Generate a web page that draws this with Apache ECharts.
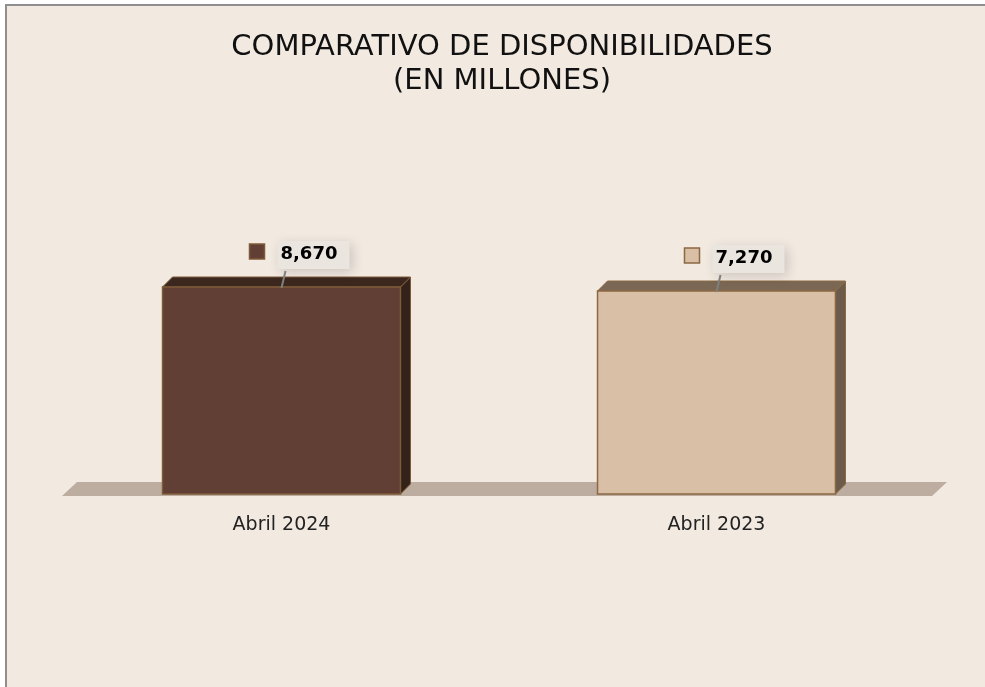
<!DOCTYPE html>
<html>
<head>
<meta charset="utf-8">
<script src="https://cdn.jsdelivr.net/npm/echarts@6/dist/echarts.min.js"></script>
<style>
html,body{margin:0;padding:0;background:#ffffff;}
#c{width:985px;height:687px;}
</style>
</head>
<body>
<div id="c"></div>
<script>
// ---- data ----
const categories = ['Abril 2024', 'Abril 2023'];
const values = [8670, 7270];
const valueLabels = ['8,670', '7,270'];
const titleLines = ['COMPARATIVO DE DISPONIBILIDADES', '(EN MILLONES)'];

// ---- styles ----
const frontColors = ['#623f34', '#d9bfa5'];
const topColors = ['#3b271e', '#7a6754'];
const sideColors = ['#33221a', '#6c5b4a'];
const edgeColors = ['#7d5a38', '#8a6842'];

const chart = echarts.init(document.getElementById('c'));
const DEPTH = 10;

function renderBar(params, api) {
  const i = params.dataIndex;
  const top = api.coord([api.value(0), api.value(1)]);
  const base = api.coord([api.value(0), 1]);
  const w = api.size([1, 0])[0] * 0.547;
  const cx = top[0], ty = top[1], by = base[1];
  const l = cx - w / 2, r = cx + w / 2;
  return {
    type: 'group',
    children: [
      { type: 'polygon', shape: { points: [[r, ty], [r + DEPTH, ty - DEPTH], [r + DEPTH, by - DEPTH], [r, by]] },
        style: { fill: sideColors[i], stroke: edgeColors[i], lineWidth: 1 } },
      { type: 'polygon', shape: { points: [[l, ty], [l + DEPTH, ty - DEPTH], [r + DEPTH, ty - DEPTH], [r, ty]] },
        style: { fill: topColors[i], stroke: edgeColors[i], lineWidth: 1 } },
      { type: 'rect', shape: { x: l, y: ty, width: w, height: by - ty },
        style: { fill: frontColors[i], stroke: edgeColors[i], lineWidth: 1.5 } },
      { type: 'rect', shape: { x: cx - 4, y: ty - 46, width: 72, height: 28 },
        style: { fill: '#ebe5df', shadowBlur: 12, shadowColor: 'rgba(0,0,0,0.16)', shadowOffsetX: 3, shadowOffsetY: 3 } },
      { type: 'line', shape: { x1: cx + 4, y1: ty - 16, x2: cx, y2: ty + 1 },
        style: { stroke: '#7f7f7f', lineWidth: 2 } },
      { type: 'rect', shape: { x: cx - 32, y: ty - 43, width: 15, height: 15 },
        style: { fill: frontColors[i], stroke: edgeColors[i], lineWidth: 1.5 } },
      { type: 'text', style: { x: cx - 1, y: ty - 33, text: valueLabels[i], fill: '#000',
        font: 'bold 18px "DejaVu Sans"', textVerticalAlign: 'middle', textAlign: 'left' } }
    ]
  };
}

function renderFloor(params, api) {
  const cs = params.coordSys;
  const x0 = cs.x, x1 = cs.x + cs.width, yb = cs.y + cs.height;
  return {
    type: 'polygon',
    shape: { points: [[x0 - 2, yb + 2], [x0 + 13, yb - 12], [x1 + 13, yb - 12], [x1 - 2, yb + 2]] },
    style: { fill: '#bcada0' }
  };
}

chart.setOption({
  animation: false,
  backgroundColor: '#ffffff',
  graphic: [
    { type: 'rect', shape: { x: 6, y: 5, width: 1200, height: 1200 },
      style: { fill: '#f2e9e1', stroke: '#8f8f8f', lineWidth: 2 }, z: -10 }
  ],
  title: {
    text: titleLines.join('\n'),
    left: 497, top: 25, textAlign: 'center',
    textStyle: { fontFamily: '"DejaVu Sans"', fontWeight: 'normal', fontSize: 29, color: '#111', lineHeight: 34, align: 'center' }
  },
  grid: { left: 64, right: 51, top: 73.5, bottom: 193 },
  xAxis: {
    type: 'category', data: categories,
    axisLine: { show: false }, axisTick: { show: false },
    axisLabel: { margin: 22, fontFamily: '"DejaVu Sans"', fontSize: 19, color: '#222' }
  },
  yAxis: { type: 'log', min: 1, max: 1e8, show: false, splitLine: { show: false } },
  series: [
    { type: 'custom', renderItem: renderFloor, data: [[0, 1]], z: 1, silent: true },
    { type: 'custom', renderItem: renderBar, data: categories.map((c, i) => [i, values[i]]), z: 2 }
  ]
});
</script>
</body>
</html>
